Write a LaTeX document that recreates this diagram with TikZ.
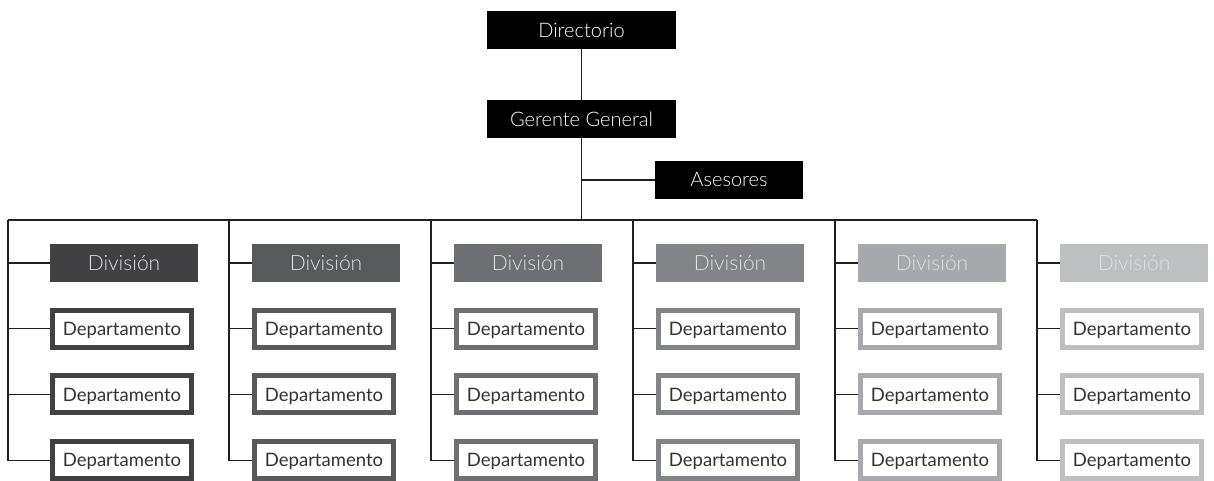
\documentclass[tikz,border=0pt]{standalone}
\usepackage{fontspec}
\IfFontExistsTF{Lato Light}{\setmainfont{Lato Light}}{\setmainfont{Lato}}
\newfontfamily\depfont{Lato}
\usetikzlibrary{positioning}
\definecolor{cLine}{RGB}{35,31,32}
\definecolor{cDivA}{RGB}{65,64,66}
\definecolor{cDivB}{RGB}{88,89,91}
\definecolor{cDivC}{RGB}{110,111,114}
\definecolor{cDivD}{RGB}{130,132,135}
\definecolor{cDivE}{RGB}{167,169,172}
\definecolor{cDivF}{RGB}{190,191,193}
\tikzset{
	head/.style  ={rectangle, fill=black, text=white, minimum width=189pt, minimum height=38pt, inner sep=0pt, font=\fontsize{20}{24}\selectfont},
	divbox/.style={rectangle, minimum width=148pt, minimum height=38pt, inner sep=0pt, text depth=0pt, text=white!88!black, font=\fontsize{21}{24}\selectfont},
	depbox/.style={rectangle, draw, line width=5pt, fill=white, minimum width=139pt, minimum height=37pt, inner sep=0pt, text depth=0pt, text=black!80, font=\depfont\fontsize{18.5}{22}\selectfont},
	conn/.style  ={draw=cLine, line width=1.2pt},
}
\begin{document}
\begin{tikzpicture}[x=1pt, y=-1pt]
	\useasboundingbox (0,0) rectangle (1214,481);
	% top of the chart
	\node[head] (dir) at (581.5,30) {Directorio};
	\node[head] (ger) at (581.5,119) {Gerente General};
	\node[head, minimum width=148pt] (ase) at (729,180) {Asesores};
	% columns: division and departments
	\foreach \i/\bx/\vx/\col in {1/50/8/cDivA, 2/252/229/cDivB, 3/454/431/cDivC, 4/656/633/cDivD, 5/858/835/cDivE, 6/1060/1037/cDivF}{
		\node[divbox, fill=\col] (div\i) at (\bx+74,263) {División};
		\foreach \r in {1,2,3}
			\node[depbox, draw=\col] (dep\i-\r) at (\bx+72,263+65.7*\r) {Departamento};
		\coordinate (top\i) at (\vx,220);
		\draw[conn] (top\i) |- (dep\i-3);
		\foreach \n in {div\i, dep\i-1, dep\i-2}
			\draw[conn] (top\i |- \n.west) -- (\n.west);
	}
	% connectors
	\draw[conn] (top1) -- (top6);
	\draw[conn] (dir) -- (ger);
	\draw[conn] (ger) -- (ger |- top1);
	\draw[conn] (ger |- ase) -- (ase);
\end{tikzpicture}
\end{document}
